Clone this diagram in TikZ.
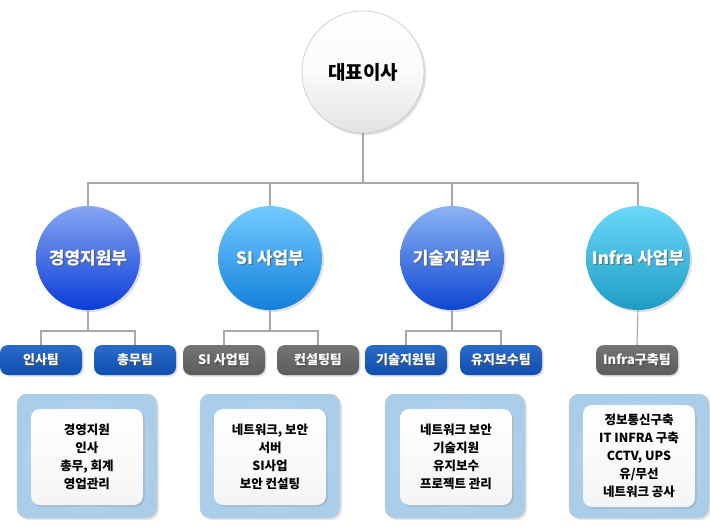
\documentclass[tikz,border=0pt]{standalone}
\usepackage{fontspec}
\setmainfont{Noto Sans CJK KR}
\usetikzlibrary{shadows}
\definecolor{lineg}{HTML}{A8A8A8}
\definecolor{teamblue}{HTML}{0F4FB0}
\definecolor{teambluetop}{HTML}{2A6AC8}
\definecolor{teamgray}{HTML}{5C5C5C}
\definecolor{teamgraytop}{HTML}{747474}
\definecolor{descblue}{HTML}{AACDE9}
\definecolor{aTop}{HTML}{86A6F2}\definecolor{aBot}{HTML}{0A3CD8}
\definecolor{bTop}{HTML}{72CCFF}\definecolor{bBot}{HTML}{1480DC}
\definecolor{cTop}{HTML}{8CB4F4}\definecolor{cBot}{HTML}{0E46D2}
\definecolor{eTop}{HTML}{6AD8FA}\definecolor{eBot}{HTML}{1F9CC4}
\newcommand{\shadowlabel}[3]{% node name, size, text
  \node[stxt=#2] at ([shift={(1.2,1.2)}]#1) {#3};
  \node[wtxt=#2] at (#1) {#3};}
\begin{document}
\begin{tikzpicture}[x=1pt,y=-1pt,
  conn/.style={draw=lineg,line width=1.1pt},
  ceoc/.style={circle,minimum size=122pt,inner sep=0pt,draw=gray!45,line width=0.6pt,
    top color=white,bottom color=gray!22,middle color=white!96!gray,
    drop shadow={shadow xshift=2pt,shadow yshift=-2pt,opacity=0.25,fill=gray}},
  divc/.style={circle,minimum size=104pt,inner sep=0pt,
    drop shadow={shadow xshift=2pt,shadow yshift=-2pt,opacity=0.25,fill=gray}},
  teambox/.style={rectangle,rounded corners=8pt,minimum width=82pt,minimum height=30pt,inner sep=0pt,
    drop shadow={shadow xshift=1.5pt,shadow yshift=-1.5pt,opacity=0.25,fill=gray}},
  tblue/.style={teambox,top color=teambluetop,bottom color=teamblue},
  tgray/.style={teambox,top color=teamgraytop,bottom color=teamgray},
  outerbox/.style={rectangle,rounded corners=10pt,minimum width=140pt,minimum height=124pt,inner sep=0pt,
    draw=gray!40,line width=0.5pt,inner color=descblue!55,outer color=descblue,
    drop shadow={shadow xshift=2pt,shadow yshift=-2pt,opacity=0.2,fill=gray}},
  innerbox/.style={rectangle,rounded corners=9pt,minimum width=112pt,minimum height=96pt,inner sep=0pt,
    top color=white,bottom color=gray!8,
    drop shadow={shadow xshift=1.5pt,shadow yshift=-1.5pt,opacity=0.3,fill=gray}},
  wtxt/.style={text=white,font=\bfseries\fontsize{#1}{#1}\selectfont,inner sep=0pt},
  stxt/.style={text=black!70,text opacity=0.6,font=\bfseries\fontsize{#1}{#1}\selectfont,inner sep=0pt},
  desc/.style={align=center,font=\bfseries\fontsize{12.5}{18}\selectfont,inner sep=0pt,text=black}
]
\useasboundingbox (0,0) rectangle (710,531);

% connectors (drawn first)
\coordinate (bus) at (363,183);
\coordinate (b1) at (88,331);
\coordinate (b2) at (270,331);
\coordinate (b3) at (452,331);

% CEO
\node[ceoc] (ceo) at (363,72) {};
\node[font=\bfseries\fontsize{19}{19}\selectfont,inner sep=0pt] (ceot) at (ceo) {대표이사};

% divisions
\node[divc,top color=aTop,bottom color=aBot] (d1) at (88,258) {};
\node[divc,top color=bTop,bottom color=bBot] (d2) at (270,258) {};
\node[divc,top color=cTop,bottom color=cBot] (d3) at (452,258) {};
\node[divc,top color=eTop,bottom color=eBot] (d4) at (638,258) {};
\shadowlabel{d1}{17}{경영지원부}
\shadowlabel{d2}{17}{SI 사업부}
\shadowlabel{d3}{17}{기술지원부}
\shadowlabel{d4}{17}{Infra 사업부}

% teams
\node[tblue] (t1) at (41,360) {};
\node[tblue] (t2) at (135,360) {};
\node[tgray] (t3) at (224,360) {};
\node[tgray] (t4) at (318,360) {};
\node[tblue] (t5) at (406,360) {};
\node[tblue] (t6) at (501,360) {};
\node[tgray] (t7) at (637,360) {};
\shadowlabel{t1}{13}{인사팀}
\shadowlabel{t2}{13}{총무팀}
\shadowlabel{t3}{13}{SI 사업팀}
\shadowlabel{t4}{13}{컨설팅팀}
\shadowlabel{t5}{13}{기술지원팀}
\shadowlabel{t6}{13}{유지보수팀}
\shadowlabel{t7}{13}{Infra구축팀}

% lines
\draw[conn] (ceo.south) -- (bus);
\draw[conn] (d1.north) |- (bus) -| (d4.north);
\draw[conn] (d2.north) -- (d2.north |- bus);
\draw[conn] (d3.north) -- (d3.north |- bus);
\draw[conn] (d1.south) -- (b1);
\draw[conn] (d2.south) -- (b2);
\draw[conn] (d3.south) -- (b3);
\draw[conn] (t1.north) |- (b1) -| (t2.north);
\draw[conn] (t3.north) |- (b2) -| (t4.north);
\draw[conn] (t5.north) |- (b3) -| (t6.north);
\draw[conn] (d4.south) -- (t7.north);

% description boxes
\node[outerbox] (o1) at (87,456) {};
\node[outerbox] (o2) at (270,456) {};
\node[outerbox] (o3) at (455,456) {};
\node[outerbox] (o4) at (639,456) {};
\node[innerbox] (i1) at (87,457) {};
\node[innerbox] (i2) at (270,457) {};
\node[innerbox] (i3) at (456,457) {};
\node[innerbox,minimum height=102pt] (i4) at (639,456) {};
\node[desc] (x1) at (i1) {경영지원\\인사\\총무, 회계\\영업관리};
\node[desc] (x2) at (i2) {네트워크, 보안\\서버\\SI사업\\보안 컨설팅};
\node[desc] (x3) at (i3) {네트워크 보안\\기술지원\\유지보수\\프로젝트 관리};
\node[desc] (x4) at (i4) {정보통신구축\\IT INFRA 구축\\CCTV, UPS\\유/무선\\네트워크 공사};
\end{tikzpicture}
\end{document}
